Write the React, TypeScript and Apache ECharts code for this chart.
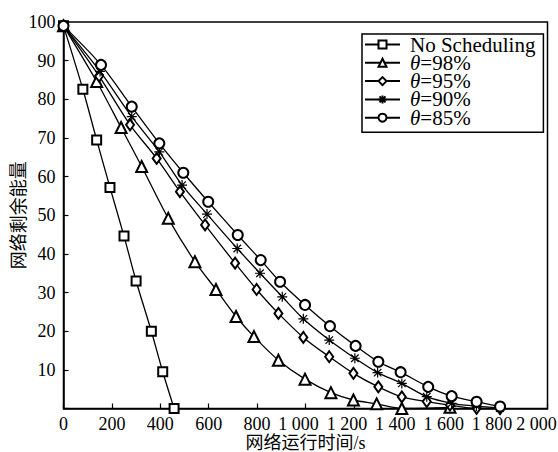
import React, { useEffect, useRef } from "react";
import * as echarts from "echarts";

const seriesNames = ["No Scheduling", "θ=98%", "θ=95%", "θ=90%", "θ=85%"];

const noSchedX = [0, 80, 137, 192, 250, 300, 363, 410, 457];
const noSchedY = [99, 82.6, 69.5, 57.2, 44.6, 33, 20, 9.5, 0];

const t98X = [0, 137, 238, 323, 433, 543, 630, 713, 787, 888, 998, 1105, 1198, 1294, 1398, 1597];
const t98Y = [99, 84.6, 72.7, 62.6, 49.2, 38.0, 30.8, 23.8, 18.6, 12.5, 7.6, 4.1, 2.2, 1.2, 0, 0.3];

const t95X = [0, 147, 275, 385, 481, 585, 709, 798, 888, 991, 1098, 1198, 1301, 1398, 1501, 1597, 1707, 1804];
const t95Y = [99, 86.0, 73.4, 64.7, 56.1, 47.5, 37.6, 30.8, 24.6, 18.4, 13.4, 9.1, 5.6, 3.0, 1.8, 0.9, 0.05, 0];

const t90X = [0, 151, 282, 396, 490, 593, 718, 812, 904, 991, 1098, 1204, 1298, 1398, 1501, 1604, 1706, 1803];
const t90Y = [99, 87.2, 75.5, 66.4, 57.8, 50.3, 41.4, 35.0, 28.9, 23.2, 17.7, 13.0, 9.3, 6.5, 3.05, 1.35, 0.6, 0.1];

const t85X = [0, 155, 282, 396, 495, 598, 720, 815, 895, 998, 1101, 1207, 1301, 1393, 1507, 1604, 1707, 1804];
const t85Y = [99, 88.9, 78.1, 68.6, 61.0, 53.5, 44.9, 38.4, 32.8, 26.8, 21.3, 16.2, 12.1, 9.4, 5.6, 3.2, 1.76, 0.5];

const xTicks = { min: 0, max: 2000, interval: 200 };
const yTicks = { min: 0, max: 100, interval: 10 };

const xName = "网络运行时间/s";
const yName = "网络剩余能量";

const FONT = '"Liberation Serif", "Noto Sans CJK SC", serif';
const STAR = "path://M0,-10L0,10M-10,0L10,0M-7.5,-7.5L7.5,7.5M-7.5,7.5L7.5,-7.5";

function pairs(xs: number[], ys: number[]) {
  return xs.map((x, i) => [x, ys[i]]);
}

export default function App() {
  const ref = useRef<HTMLDivElement>(null);
  useEffect(() => {
    if (!ref.current) return;
    const chart = echarts.init(ref.current, null, { renderer: "svg" });
    const datas = [
      pairs(noSchedX, noSchedY),
      pairs(t98X, t98Y),
      pairs(t95X, t95Y),
      pairs(t90X, t90Y),
      pairs(t85X, t85Y),
    ];
    const symbols = ["emptyRect", "emptyTriangle", "emptyDiamond", STAR, "emptyCircle"];
    const sizes: any[] = [9, 11, [8, 11], 10, 10];
    const series = seriesNames.map((name, i) => ({
      name,
      type: "line",
      data: datas[i],
      smooth: 0.3,
      symbol: symbols[i],
      symbolSize: sizes[i],
      showAllSymbol: true,
      lineStyle: { color: "#000", width: 1.3 },
      itemStyle: { color: "#000", borderColor: "#000", borderWidth: 1.2 },
      z: 2 + i,
    }));
    const nameStyle = { fontFamily: FONT, fontSize: 18, color: "#000" };
    const axisCommon = {
      axisLine: { show: true, lineStyle: { color: "#000", width: 1.5 } },
      axisTick: { show: true, inside: true, length: 5, lineStyle: { color: "#000", width: 1.2 } },
      splitLine: { show: false },
      nameMoveOverlap: false,
    };
    chart.setOption({
      animation: false,
      backgroundColor: "#fff",
      grid: {
        left: 63.5,
        right: 10.5,
        top: 22,
        bottom: 43.5,
        outerBoundsMode: "none",
        containLabel: false,
        show: true,
        borderColor: "#000",
        borderWidth: 1.5,
        backgroundColor: "transparent",
      },
      legend: {
        orient: "vertical",
        left: 362,
        top: 34,
        data: seriesNames,
        itemWidth: 35,
        itemHeight: 10,
        itemGap: -2.7,
        padding: [0, 8, 4, 2],
        borderColor: "#000",
        borderWidth: 1.5,
        backgroundColor: "#fff",
        formatter: (n: string) => (n.startsWith("θ") ? "{i|θ}" + n.slice(1) : n),
        textStyle: {
          fontFamily: FONT,
          fontSize: 21,
          color: "#000",
          padding: [0, 0, 0, 5],
          rich: {
            i: { fontFamily: FONT, fontSize: 21, fontStyle: "italic", color: "#000" },
          },
        },
      },
      xAxis: {
        type: "value",
        ...xTicks,
        name: xName,
        nameLocation: "middle",
        nameGap: 25,
        nameTextStyle: nameStyle,
        ...axisCommon,
        axisLabel: {
          fontFamily: FONT,
          fontSize: 18,
          color: "#000",
          margin: 6,
          formatter: (v: number) => {
            if (v < 1000) return String(v);
            const s = Math.floor(v / 1000) + " " + String(v % 1000).padStart(3, "0");
            return v >= 2000 ? "{m|" + s + "}" : "{k|" + s + "}";
          },
          rich: {
            k: { fontFamily: FONT, fontSize: 18, color: "#000", padding: [0, 14, 0, 0] },
            m: { fontFamily: FONT, fontSize: 18, color: "#000", padding: [0, 22, 0, 0] },
          },
        },
      },
      yAxis: {
        type: "value",
        ...yTicks,
        name: yName,
        nameLocation: "middle",
        nameGap: 36,
        nameTextStyle: nameStyle,
        ...axisCommon,
        axisLabel: {
          fontFamily: FONT,
          fontSize: 18,
          color: "#000",
          margin: 8,
          formatter: (v: number) => (v === 0 ? "" : String(v)),
        },
      },
      series,
    });
    return () => chart.dispose();
  }, []);
  return (
    <div
      ref={ref}
      style={{ position: "fixed", left: 0, top: 0, width: 558, height: 452, background: "#fff" }}
    />
  );
}
